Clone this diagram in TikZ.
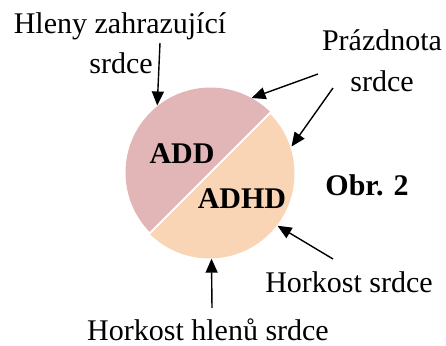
\documentclass[tikz,border=0pt]{standalone}
\usepackage{fontspec}
\setmainfont{Liberation Serif}
\usetikzlibrary{arrows.meta}
\definecolor{addpink}{HTML}{E2B5B7}
\definecolor{adhdpeach}{HTML}{FAD5B5}

\begin{document}
\begin{tikzpicture}[x=0.5pt,y=0.5pt,-{Triangle[length=7pt,width=6pt]},line width=0.7pt,
   lbl/.style={font=\fontsize{15}{18}\selectfont,anchor=base,inner sep=0pt},
   bold/.style={lbl,font=\fontsize{15}{18}\selectfont\bfseries}]
   \useasboundingbox (0,0) rectangle (446,345);
   \node[circle,minimum size=85pt,inner sep=0pt] (heart) at (210,172) {};
   \fill[addpink] (heart.45) arc[start angle=45,end angle=225,radius=42.5pt] -- cycle;
   \fill[adhdpeach] (heart.225) arc[start angle=225,end angle=405,radius=42.5pt] -- cycle;
   \draw[-,white,line width=1pt] (heart.45) -- (heart.225);

   \node[lbl] (t1) at (120,312) {Hleny zahrazující};
   \node[lbl] (t2) at (121,272) {srdce};
   \node[lbl] (t3) at (382,295) {Prázdnota};
   \node[lbl] (t4) at (382,254) {srdce};
   \node[bold] (add) at (182,182) {ADD};
   \node[bold] (adhd) at (242,137) {ADHD};
   \node[bold] (obr) at (367,150) {Obr. 2};
   \node[lbl] (t5) at (349,53) {Horkost srdce};
   \node[lbl] (t6) at (208,5) {Horkost hlenů srdce};

   \coordinate (s1) at (160,302);
   \coordinate (s2) at (318,271);
   \coordinate (s3) at (333,257);
   \coordinate (s4) at (333,86);
   \coordinate (s5) at (212,37);

   \path (s1) edge (heart.128);
   \path (s2) edge (heart.61);
   \path (s3) edge (heart.18);
   \path (s4) edge (heart.-38);
   \path (s5) edge (heart.271);

\end{tikzpicture}
\end{document}
